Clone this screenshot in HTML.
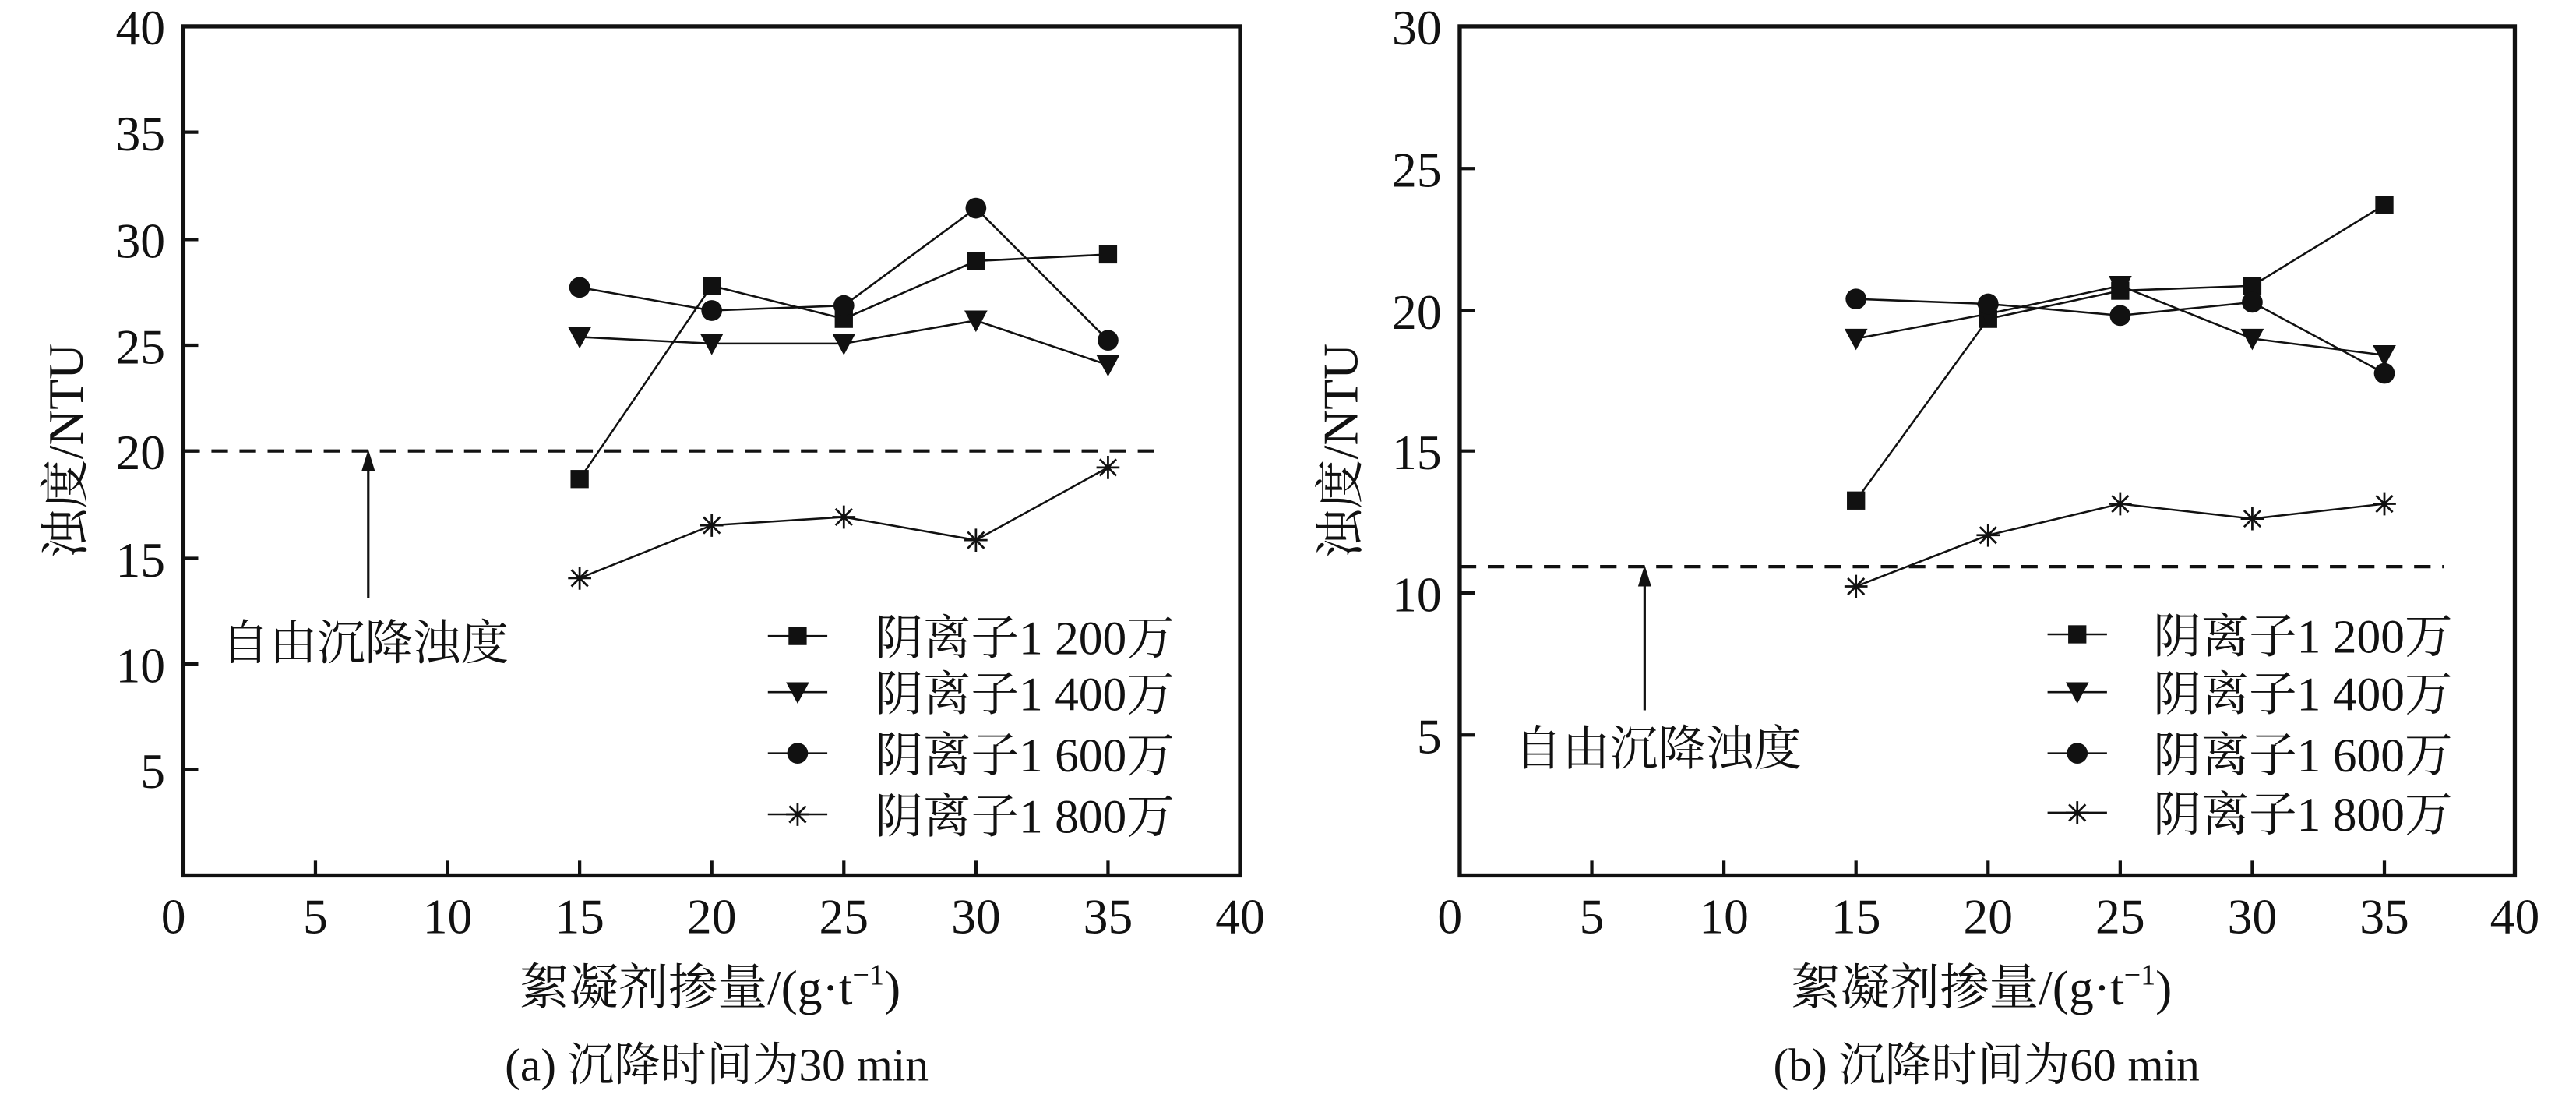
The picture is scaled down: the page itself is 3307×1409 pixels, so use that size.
<!DOCTYPE html>
<html><head><meta charset="utf-8"><style>
html,body{margin:0;padding:0;background:#fff}
svg{display:block}
text{font-family:"Liberation Serif","Noto Serif CJK SC",serif;fill:#111}
</style></head><body>
<svg width="3307" height="1409" viewBox="0 0 1560 664.7" xmlns="http://www.w3.org/2000/svg">
<defs>
<g id="sq"><rect x="-5.5" y="-5.5" width="11" height="11" fill="#111"/></g>
<g id="tri"><path d="M-7,-6 L7,-6 L0,7 Z" fill="#111"/></g>
<g id="ci"><circle r="6.3" fill="#111"/></g>
<g id="st" stroke="#111" stroke-width="1.3"><path d="M-7,0H7M0,-7V7M-5,-5L5,5M-5,5L5,-5"/></g>
</defs>

<g>
<rect x="111" y="16" width="640" height="514" fill="none" stroke="#111" stroke-width="2.5"/>
<g stroke="#111" stroke-width="2">
<path d="M191,530v-9M271,530v-9M351,530v-9M431,530v-9M511,530v-9M591,530v-9M671,530v-9"/>
<path d="M111,80h9M111,145h9M111,209h9M111,273h9M111,338h9M111,402h9M111,466h9"/>
</g>
<g font-size="30" text-anchor="end">
<text x="100" y="27">40</text><text x="100" y="91">35</text><text x="100" y="156">30</text><text x="100" y="220">25</text><text x="100" y="284">20</text><text x="100" y="349">15</text><text x="100" y="413">10</text><text x="100" y="477">5</text>
</g>
<g font-size="30" text-anchor="middle">
<text x="105" y="565">0</text><text x="191" y="565">5</text><text x="271" y="565">10</text><text x="351" y="565">15</text><text x="431" y="565">20</text><text x="511" y="565">25</text><text x="591" y="565">30</text><text x="671" y="565">35</text><text x="751" y="565">40</text>
</g>
<line x1="111" y1="273" x2="706" y2="273" stroke="#111" stroke-width="2" stroke-dasharray="10,7"/>
<line x1="223" y1="362" x2="223" y2="282" stroke="#111" stroke-width="1.5"/>
<path d="M219,285 L223,272 L227,285 Z" fill="#111"/>
<text x="134" y="399" font-size="29">自由沉降浊度</text>
<g fill="none" stroke="#111" stroke-width="1.2">
<polyline points="351,290 431,173 511,193 591,158 671,154"/>
<polyline points="351,204 431,208 511,208 591,194 671,221"/>
<polyline points="351,174 431,188 511,185 591,126 671,206"/>
<polyline points="351,350 431,318 511,313 591,327 671,283"/>
</g>
<use href="#sq" x="351" y="290"/><use href="#sq" x="431" y="173"/><use href="#sq" x="511" y="193"/><use href="#sq" x="591" y="158"/><use href="#sq" x="671" y="154"/>
<use href="#tri" x="351" y="204"/><use href="#tri" x="431" y="208"/><use href="#tri" x="511" y="208"/><use href="#tri" x="591" y="194"/><use href="#tri" x="671" y="221"/>
<use href="#ci" x="351" y="174"/><use href="#ci" x="431" y="188"/><use href="#ci" x="511" y="185"/><use href="#ci" x="591" y="126"/><use href="#ci" x="671" y="206"/>
<use href="#st" x="351" y="350"/><use href="#st" x="431" y="318"/><use href="#st" x="511" y="313"/><use href="#st" x="591" y="327"/><use href="#st" x="671" y="283"/>
<g stroke="#111" stroke-width="1.2"><path d="M465,385h36M465,419h36M465,456h36M465,493h36"/></g>
<use href="#sq" x="483" y="385"/><use href="#tri" x="483" y="419"/><use href="#ci" x="483" y="456"/><use href="#st" x="483" y="493"/>
<g font-size="29"><text x="530" y="396">阴离子1 200万</text><text x="530" y="430">阴离子1 400万</text><text x="530" y="467">阴离子1 600万</text><text x="530" y="504">阴离子1 800万</text></g>
<text transform="translate(50,273) rotate(-90)" font-size="30" text-anchor="middle">浊度/NTU</text>
<text x="430" y="608" font-size="30" text-anchor="middle">絮凝剂掺量/(g·t<tspan font-size="18" dy="-12">−1</tspan><tspan dy="12">)</tspan></text>
<text x="434" y="654" font-size="28" text-anchor="middle">(a) 沉降时间为30 min</text>
</g>

<g>
<rect x="884" y="16" width="639" height="514" fill="none" stroke="#111" stroke-width="2.5"/>
<g stroke="#111" stroke-width="2">
<path d="M964,530v-9M1044,530v-9M1124,530v-9M1204,530v-9M1284,530v-9M1364,530v-9M1444,530v-9"/>
<path d="M884,102h9M884,188h9M884,273h9M884,359h9M884,445h9"/>
</g>
<g font-size="30" text-anchor="end">
<text x="873" y="27">30</text><text x="873" y="113">25</text><text x="873" y="199">20</text><text x="873" y="284">15</text><text x="873" y="370">10</text><text x="873" y="456">5</text>
</g>
<g font-size="30" text-anchor="middle">
<text x="878" y="565">0</text><text x="964" y="565">5</text><text x="1044" y="565">10</text><text x="1124" y="565">15</text><text x="1204" y="565">20</text><text x="1284" y="565">25</text><text x="1364" y="565">30</text><text x="1444" y="565">35</text><text x="1523" y="565">40</text>
</g>
<line x1="884" y1="343" x2="1480" y2="343" stroke="#111" stroke-width="2" stroke-dasharray="10,7"/>
<line x1="996" y1="430" x2="996" y2="352" stroke="#111" stroke-width="1.5"/>
<path d="M992,355 L996,342 L1000,355 Z" fill="#111"/>
<text x="917" y="463" font-size="29">自由沉降浊度</text>
<g fill="none" stroke="#111" stroke-width="1.2">
<polyline points="1124,303 1204,193 1284,176 1364,173 1444,124"/>
<polyline points="1124,205 1204,190 1284,173 1364,205 1444,215"/>
<polyline points="1124,181 1204,184 1284,191 1364,183 1444,226"/>
<polyline points="1124,355 1204,324 1284,305 1364,314 1444,305"/>
</g>
<use href="#sq" x="1124" y="303"/><use href="#sq" x="1204" y="193"/><use href="#sq" x="1284" y="176"/><use href="#sq" x="1364" y="173"/><use href="#sq" x="1444" y="124"/>
<use href="#tri" x="1124" y="205"/><use href="#tri" x="1204" y="190"/><use href="#tri" x="1284" y="173"/><use href="#tri" x="1364" y="205"/><use href="#tri" x="1444" y="215"/>
<use href="#ci" x="1124" y="181"/><use href="#ci" x="1204" y="184"/><use href="#ci" x="1284" y="191"/><use href="#ci" x="1364" y="183"/><use href="#ci" x="1444" y="226"/>
<use href="#st" x="1124" y="355"/><use href="#st" x="1204" y="324"/><use href="#st" x="1284" y="305"/><use href="#st" x="1364" y="314"/><use href="#st" x="1444" y="305"/>
<g stroke="#111" stroke-width="1.2"><path d="M1240,384h36M1240,419h36M1240,456h36M1240,492h36"/></g>
<use href="#sq" x="1258" y="384"/><use href="#tri" x="1258" y="419"/><use href="#ci" x="1258" y="456"/><use href="#st" x="1258" y="492"/>
<g font-size="29"><text x="1304" y="395">阴离子1 200万</text><text x="1304" y="430">阴离子1 400万</text><text x="1304" y="467">阴离子1 600万</text><text x="1304" y="503">阴离子1 800万</text></g>
<text transform="translate(822,273) rotate(-90)" font-size="30" text-anchor="middle">浊度/NTU</text>
<text x="1200" y="608" font-size="30" text-anchor="middle">絮凝剂掺量/(g·t<tspan font-size="18" dy="-12">−1</tspan><tspan dy="12">)</tspan></text>
<text x="1203" y="654" font-size="28" text-anchor="middle">(b) 沉降时间为60 min</text>
</g>
</svg>
</body></html>
